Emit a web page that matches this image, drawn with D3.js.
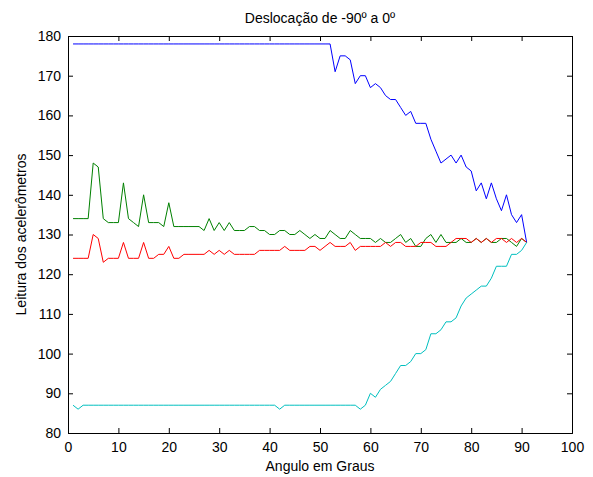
<!DOCTYPE html>
<html>
<head>
<meta charset="utf-8">
<script src="https://cdn.jsdelivr.net/npm/d3@7/dist/d3.min.js"></script>
<style>
  body { margin: 0; background: #fff; }
  text { font-family: "Liberation Sans", Arial, sans-serif; fill: #000; }
</style>
</head>
<body>
<div id="chart"></div>
<script>
// data, x = 1..91
const angles = d3.range(1, 92);

const blueVals = [
  178,178,178,178,178,178,178,178,178,178,
  178,178,178,178,178,178,178,178,178,178,
  178,178,178,178,178,178,178,178,178,178,
  178,178,178,178,178,178,178,178,178,178,
  178,178,178,178,178,178,178,178,178,178,
  178,178,171,175,175,174,168,170,170,167,
  168,167,165,164,164,162,160,161,158,158,
  158,154,151,148,149,150,148,150,147,146,
  141,143,139,143,139,136,140,135,133,135,
  128
];

const greenVals = [
  134,134,134,134,148,147,134,133,133,133,
  143,134,133,132,140,133,133,133,132,138,
  132,132,132,132,132,132,131,134,131,133,
  131,133,131,131,131,132,132,131,131,130,
  130,131,131,130,130,131,130,129,130,129,
  129,131,130,129,129,131,130,129,129,129,
  128,129,128,128,129,130,128,129,127,127,
  129,130,128,130,128,128,128,129,128,128,
  129,128,129,128,128,129,129,128,127,129,
  128
];

const redVals = [
  124,124,124,124,130,129,123,124,124,124,
  128,124,124,124,128,124,124,125,125,127,
  124,124,125,125,125,125,125,126,125,126,
  125,126,125,125,125,125,125,126,126,126,
  126,126,127,126,126,126,126,127,127,126,
  127,128,127,127,127,128,126,127,127,127,
  127,127,128,127,128,128,127,127,127,128,
  128,128,127,127,127,128,129,129,129,128,
  129,128,129,128,129,129,128,129,128,129,
  128
];

const cyanVals = [
  87,86,87,87,87,87,87,87,87,87,
  87,87,87,87,87,87,87,87,87,87,
  87,87,87,87,87,87,87,87,87,87,
  87,87,87,87,87,87,87,87,87,87,
  87,86,87,87,87,87,87,87,87,87,
  87,87,87,87,87,87,87,86,87,90,
  89,91,92,93,95,97,97,98,100,100,
  101,105,105,106,108,108,109,112,114,115,
  116,117,117,119,122,122,122,125,125,126,
  128
];

const xTicks = d3.range(0, 101, 10);
const yTicks = d3.range(80, 181, 10);

const seriesList = [
  { vals: blueVals, color: "#0000ff" },
  { vals: greenVals, color: "#008000" },
  { vals: redVals, color: "#ff0000" },
  { vals: cyanVals, color: "#00bfbf" }
];

let svgWidth = 593;
let svgHeight = 477;

let margin = { top: 36, right: 21, bottom: 44, left: 68 };
let chartWidth = svgWidth - margin.left - margin.right;
let chartHeight = svgHeight - margin.top - margin.bottom;

let svg = d3.select("#chart").append("svg")
  .attr("width", svgWidth)
  .attr("height", svgHeight);

let chartGroup = svg.append("g")
  .attr("transform", `translate(${margin.left}, ${margin.top})`);

//X Scale
let xScale = d3.scaleLinear()
  .domain([0, 100])
  .range([0, chartWidth]);

//Y Scale
let yScale = d3.scaleLinear()
  .domain([80, 180])
  .range([chartHeight, 0]);

//lines
let line = d3.line()
  .x((d, i) => xScale(angles[i]))
  .y(d => yScale(d));

seriesList.forEach(s => {
  chartGroup.append("path")
    .datum(s.vals)
    .attr("fill", "none")
    .attr("stroke", s.color)
    .attr("stroke-width", 1)
    .attr("d", line);
});

//axes, ticks pointing inward like matlab
let xAxis = d3.axisBottom(xScale).tickValues(xTicks).tickSize(-5).tickPadding(9).tickFormat(d3.format("d"));
let yAxis = d3.axisLeft(yScale).tickValues(yTicks).tickSize(-5).tickPadding(7).tickFormat(d3.format("d"));
let xTop = d3.axisTop(xScale).tickValues(xTicks).tickSize(-5).tickFormat("");
let yRight = d3.axisRight(yScale).tickValues(yTicks).tickSize(-5).tickFormat("");

let gx = chartGroup.append("g")
  .attr("transform", `translate(0, ${chartHeight})`)
  .call(xAxis);
let gy = chartGroup.append("g").call(yAxis);
let gxt = chartGroup.append("g").call(xTop);
let gyr = chartGroup.append("g")
  .attr("transform", `translate(${chartWidth}, 0)`)
  .call(yRight);

[gx, gy, gxt, gyr].forEach(g => {
  g.select(".domain").attr("stroke", "#000");
  g.selectAll(".tick line").attr("stroke", "#000");
  g.selectAll("text").style("font-size", "14px").attr("fill", "#000");
});

//labels
svg.append("text")
  .attr("x", margin.left + chartWidth / 2)
  .attr("y", 23)
  .attr("text-anchor", "middle")
  .style("font-size", "14px")
  .text("Deslocação de -90º a 0º");

svg.append("text")
  .attr("x", margin.left + chartWidth / 2)
  .attr("y", 471)
  .attr("text-anchor", "middle")
  .style("font-size", "14px")
  .text("Angulo em Graus");

svg.append("text")
  .attr("transform", `translate(26, ${margin.top + chartHeight / 2}) rotate(-90)`)
  .attr("text-anchor", "middle")
  .style("font-size", "14px")
  .text("Leitura dos acelerômetros");
</script>
</body>
</html>
